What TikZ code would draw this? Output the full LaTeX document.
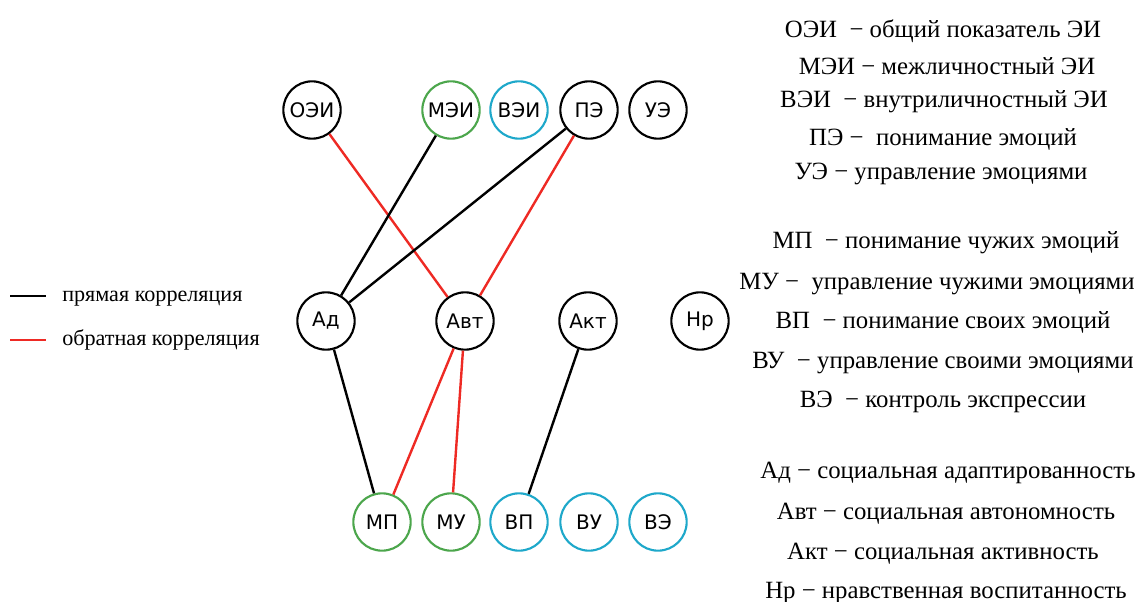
\documentclass[tikz,border=0pt]{standalone}
\usepackage{fontspec}
\setmainfont{Liberation Serif}
\newfontfamily\nodefont{DejaVu Sans}
\definecolor{eigreen}{HTML}{4CA64C}
\definecolor{eicyan}{HTML}{1EA8CA}
\definecolor{negred}{HTML}{EE2A24}
\begin{document}
\begin{tikzpicture}[x=0.75pt,y=-0.75pt,
    eiscale/.style={circle,draw,line width=1.6pt,minimum size=43pt,inner sep=0pt,
      font=\nodefont\fontsize{15}{17}\selectfont},
    inter/.style={eiscale,draw=eigreen},
    intra/.style={eiscale,draw=eicyan},
    poscor/.style={line width=1.8pt,black},
    negcor/.style={line width=1.8pt,negred},
    note/.style={anchor=base,inner sep=0pt,font=\fontsize{18.6}{20}\selectfont},
    key/.style={anchor=base west,inner sep=0pt,font=\fontsize{16.6}{18}\selectfont}]
  \useasboundingbox (0,0) rectangle (1145,602);
  % emotional intelligence scales
  \node[eiscale] (oei) at (312,110) {ОЭИ};
  \node[inter] (mei) at (451,110) {МЭИ};
  \node[intra] (vei) at (519,110) {ВЭИ};
  \node[eiscale] (pe) at (589,110) {ПЭ};
  \node[eiscale] (ue) at (658,110) {УЭ};
  % social traits
  \node[eiscale] (ad) at (326,321) {Ад};
  \node[eiscale] (avt) at (465,321) {Авт};
  \node[eiscale] (akt) at (588,321) {Акт};
  \node[eiscale] (nr) at (700,321) {Нр};
  % subscales
  \node[inter] (mp) at (382,522) {МП};
  \node[inter] (mu) at (451,522) {МУ};
  \node[intra] (vp) at (519,522) {ВП};
  \node[intra] (vu) at (589,522) {ВУ};
  \node[intra] (ve) at (658,522) {ВЭ};
  % correlations
  \draw[negcor] (oei) -- (avt);
  \draw[poscor] (mei) -- (ad);
  \draw[poscor] (pe) -- (ad);
  \draw[negcor] (pe) -- (avt);
  \draw[poscor] (ad) -- (mp);
  \draw[negcor] (avt) -- (mp);
  \draw[negcor] (avt) -- (mu);
  \draw[poscor] (akt) -- (vp);
  % legend
  \coordinate (k1) at (10,296);
  \coordinate (k2) at (46,296);
  \coordinate (k3) at (10,340);
  \coordinate (k4) at (46,340);
  \draw[poscor,line width=2pt] (k1) -- (k2);
  \draw[negcor,line width=2pt] (k3) -- (k4);
  \node[key] (kpos) at (62,301) {прямая корреляция};
  \node[key] (kneg) at (62,345) {обратная корреляция};
  % abbreviations
  \node[note] (t1) at (943,37.5) {ОЭИ \ − общий показатель ЭИ};
  \node[note] (t2) at (947,74.5) {МЭИ − межличностный ЭИ};
  \node[note] (t3) at (944,107.5) {ВЭИ \ − внутриличностный ЭИ};
  \node[note] (t4) at (943,145.5) {ПЭ − \ понимание эмоций};
  \node[note] (t5) at (941,179.5) {УЭ − управление эмоциями};
  \node[note] (t6) at (946,248) {МП \ − понимание чужих эмоций};
  \node[note] (t7) at (937,289.5) {МУ − \ управление чужими эмоциями};
  \node[note] (t8) at (943,328.5) {ВП \ − понимание своих эмоций};
  \node[note] (t9) at (943,368.5) {ВУ \ − управление своими эмоциями};
  \node[note] (t10) at (943,407.5) {ВЭ \ − контроль экспрессии};
  \node[note] (t11) at (948,478.5) {Ад − социальная адаптированность};
  \node[note] (t12) at (946,519.5) {Авт − социальная автономность};
  \node[note] (t13) at (943,559.5) {Акт − социальная активность};
  \node[note] (t14) at (946,598) {Нр − нравственная воспитанность};
\end{tikzpicture}
\end{document}
